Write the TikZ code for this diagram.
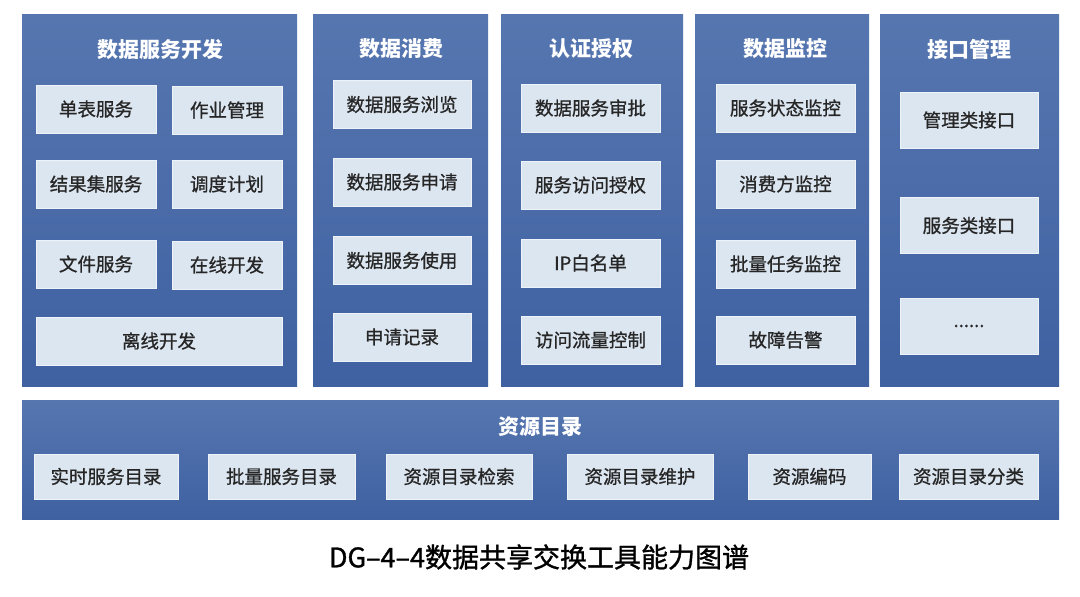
\documentclass[tikz,border=0pt]{standalone}
\usepackage{fontspec}
\setmainfont{Noto Sans CJK SC}
\newfontfamily\medfont[FakeBold=0.9]{Noto Sans CJK SC}
\newfontfamily\capfont[FakeBold=1.2]{Noto Sans CJK SC}
\definecolor{paneltop}{HTML}{5676B0}
\definecolor{panelbot}{HTML}{3F61A1}
\definecolor{boxfill}{HTML}{DCE6F1}
\definecolor{boxline}{HTML}{EEF3FA}
\definecolor{boxtext}{HTML}{262626}
\tikzset{
  panel/.style={rectangle, inner sep=0pt, top color=paneltop, bottom color=panelbot, draw=none},
  ptitle/.style={inner sep=0pt, text=white, font=\fontsize{21}{24}\selectfont\bfseries},
  box/.style={rectangle, inner sep=0pt, fill=boxfill, draw=boxline, line width=0.8pt,
    text=boxtext, font=\medfont\fontsize{18.5}{22}\selectfont, minimum height=48pt},
}
\begin{document}
\begin{tikzpicture}[x=1pt,y=-1pt]
\useasboundingbox[fill=white] (0,0) rectangle (1080,597);
% panels
\node[panel, minimum width=275pt, minimum height=372pt] (p1) at (159.5,200) {};
\node[panel, minimum width=175pt, minimum height=372pt] (p2) at (400.5,200) {};
\node[panel, minimum width=182pt, minimum height=372pt] (p3) at (592,200) {};
\node[panel, minimum width=174pt, minimum height=372pt] (p4) at (782,200) {};
\node[panel, minimum width=179pt, minimum height=372pt] (p5) at (969.5,200) {};
\node[panel, minimum width=1037pt, minimum height=119pt] (p6) at (540.5,459.5) {};
% titles
\node[ptitle] (t1) at (160,49) {数据服务开发};
\node[ptitle] (t2) at (401,49) {数据消费};
\node[ptitle] (t3) at (591,49) {认证授权};
\node[ptitle] (t4) at (785,49) {数据监控};
\node[ptitle] (t5) at (969,49) {接口管理};
\node[ptitle] (t6) at (540,427) {资源目录};
% panel 1
\node[box, minimum width=120pt] (a1) at (96,109) {单表服务};
\node[box, minimum width=110pt] (a2) at (227,110) {作业管理};
\node[box, minimum width=120pt] (a3) at (96,184) {结果集服务};
\node[box, minimum width=110pt] (a4) at (227,184) {调度计划};
\node[box, minimum width=120pt] (a5) at (96,264) {文件服务};
\node[box, minimum width=110pt] (a6) at (227,265) {在线开发};
\node[box, minimum width=246pt] (a7) at (159,341) {离线开发};
% panel 2
\node[box, minimum width=138pt] (c1) at (402,104.5) {数据服务浏览};
\node[box, minimum width=138pt] (c2) at (402,182) {数据服务申请};
\node[box, minimum width=138pt] (c3) at (402,260.5) {数据服务使用};
\node[box, minimum width=138pt] (c4) at (402,337) {申请记录};
% panel 3
\node[box, minimum width=139pt] (d1) at (590.5,108) {数据服务审批};
\node[box, minimum width=139pt] (d2) at (590.5,185) {服务访问授权};
\node[box, minimum width=139pt] (d3) at (590.5,263) {IP白名单};
\node[box, minimum width=139pt] (d4) at (590.5,340) {访问流量控制};
% panel 4
\node[box, minimum width=139pt] (e1) at (785.5,108) {服务状态监控};
\node[box, minimum width=139pt] (e2) at (785.5,184) {消费方监控};
\node[box, minimum width=139pt] (e3) at (785.5,264) {批量任务监控};
\node[box, minimum width=139pt] (e4) at (785.5,340) {故障告警};
% panel 5
\node[box, minimum width=138pt, minimum height=56pt] (f1) at (969,120) {管理类接口};
\node[box, minimum width=138pt, minimum height=56pt] (f2) at (969,225.5) {服务类接口};
\node[box, minimum width=138pt, minimum height=56pt] (f3) at (969,326) {......};
% bottom
\node[box, minimum height=45pt, minimum width=144pt] (b1) at (106,476.5) {实时服务目录};
\node[box, minimum height=45pt, minimum width=147pt] (b2) at (281.5,476.5) {批量服务目录};
\node[box, minimum height=45pt, minimum width=146pt] (b3) at (459,476.5) {资源目录检索};
\node[box, minimum height=45pt, minimum width=146pt] (b4) at (640,476.5) {资源目录维护};
\node[box, minimum height=45pt, minimum width=123pt] (b5) at (809.5,476.5) {资源编码};
\node[box, minimum height=45pt, minimum width=139pt] (b6) at (968.5,476.5) {资源目录分类};
% caption
\node[inner sep=0pt, text=black, font=\capfont\fontsize{27}{30}\selectfont] (cap) at (539,557) {DG–4–4数据共享交换工具能力图谱};
\end{tikzpicture}
\end{document}
